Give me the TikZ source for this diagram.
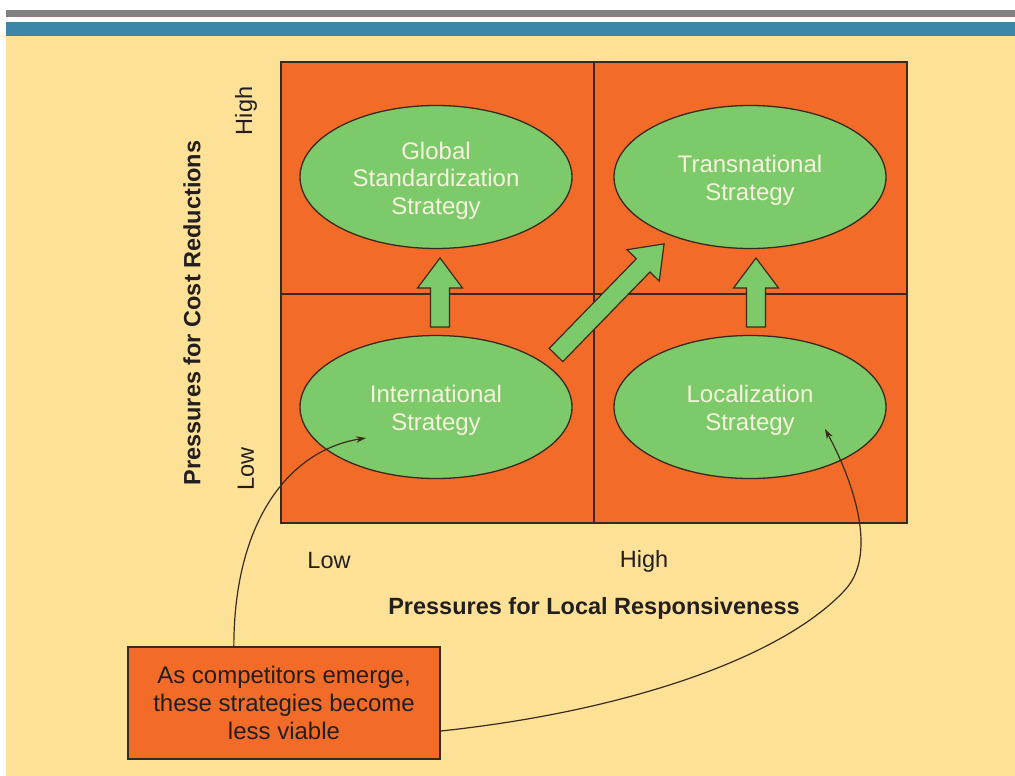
\documentclass[tikz,border=0pt]{standalone}
\usepackage{fontspec}
\setmainfont{Liberation Sans}
\usetikzlibrary{shapes.geometric,arrows.meta,calc}
\definecolor{bgyellow}{HTML}{FDE197}
\definecolor{barblue}{HTML}{3C87A8}
\definecolor{bargray}{HTML}{808080}
\definecolor{quadorange}{HTML}{F36B28}
\definecolor{ellgreen}{HTML}{7DCA6A}
\definecolor{darkline}{HTML}{3A2A1E}
\definecolor{ltext}{HTML}{F6F2DE}
\definecolor{dtext}{HTML}{231F20}
\newcommand\mytopstrut{\rule{0pt}{24pt}}
\tikzset{
  strat/.style={ellipse, draw=darkline, line width=1.3pt, fill=ellgreen,
    minimum width=272pt, minimum height=143pt, inner sep=0pt, text=ltext,
    align=center, font=\fontsize{24}{27.5}\selectfont},
  arrowshape/.style={draw=darkline, line width=1.2pt, fill=ellgreen, line join=miter},
  pics/blockarrow/.style={code={
    \draw[arrowshape] (0,-9.5) -- (#1-30,-9.5) -- (#1-30,-22.5) -- (#1,0)
      -- (#1-30,22.5) -- (#1-30,9.5) -- (0,9.5) -- cycle;}},
  axlab/.style={text=dtext, font=\fontsize{23.5}{26}\selectfont, inner sep=0pt},
  axtitle/.style={text=dtext, font=\bfseries\fontsize{23.5}{26}\selectfont, inner sep=0pt},
  notebox/.style={draw=darkline, line width=1.5pt, fill=quadorange, text=dtext,
    minimum width=312pt, minimum height=112pt, align=center, inner sep=0pt,
    font=\fontsize{24}{28}\selectfont},
  curve/.style={draw=darkline, line width=1.2pt, -{Stealth[length=10pt,width=6.5pt]}}
}
\begin{document}
\begin{tikzpicture}[x=1pt,y=-1pt]
\useasboundingbox (0,0) rectangle (1015,776);
\fill[white] (0,0) rectangle (1015,776);
\fill[bargray] (6,10) rectangle (1015,17);
\fill[barblue] (6,22) rectangle (1015,36);
\fill[bgyellow] (6,36) rectangle (1015,776);

% quadrants
\fill[quadorange] (281,62) rectangle (907,523);
\draw[darkline, line width=1.5pt] (281,62) rectangle (907,523);
\draw[darkline, line width=1.5pt] (594,62) -- (594,523);
\draw[darkline, line width=1.5pt] (281,294) -- (907,294);

% strategies
\node[strat] (gs) at (436,177) {\mytopstrut Global\\Standardization\\Strategy};
\node[strat] (tn) at (750,177) {\mytopstrut Transnational\\Strategy};
\node[strat] (in) at (436,407) {\mytopstrut International\\Strategy};
\node[strat] (lo) at (750,407) {\mytopstrut Localization\\Strategy};

% block arrows
\pic[rotate=90] at (440,327) {blockarrow=69};
\pic[rotate=90] at (756,327) {blockarrow=69};
\pic[rotate=45.8] at (556,355) {blockarrow=155};

% axis labels
\node[axlab, rotate=90] (yhigh) at (246,111) {High};
\node[axlab, rotate=90] (ylow) at (246,469) {Low};
\node[axtitle, rotate=90] (ytitle) at (192,313) {Pressures for Cost Reductions};
\node[axlab] (xlow) at (329,561) {Low};
\node[axlab] (xhigh) at (644,561) {High};
\node[axtitle] (xtitle) at (594,608) {Pressures for Local Responsiveness};

% note box
\node[notebox] (note) at (284,703) {As competitors emerge,\\these strategies become\\less viable};

% curves
\coordinate (tipin) at (366,438);
\coordinate (tiplo) at (825,429);
\coordinate (mid) at (845,590);
\draw[curve] ($(note.north west)!0.34!(note.north east)$)
  .. controls (234,520) and (290,450) .. (tipin);
\draw[curve] ($(note.east)+(0,28)$)
  .. controls (620,712) and (780,660) .. (mid)
  .. controls (880,552) and (850,475) .. (tiplo);
\end{tikzpicture}
\end{document}
